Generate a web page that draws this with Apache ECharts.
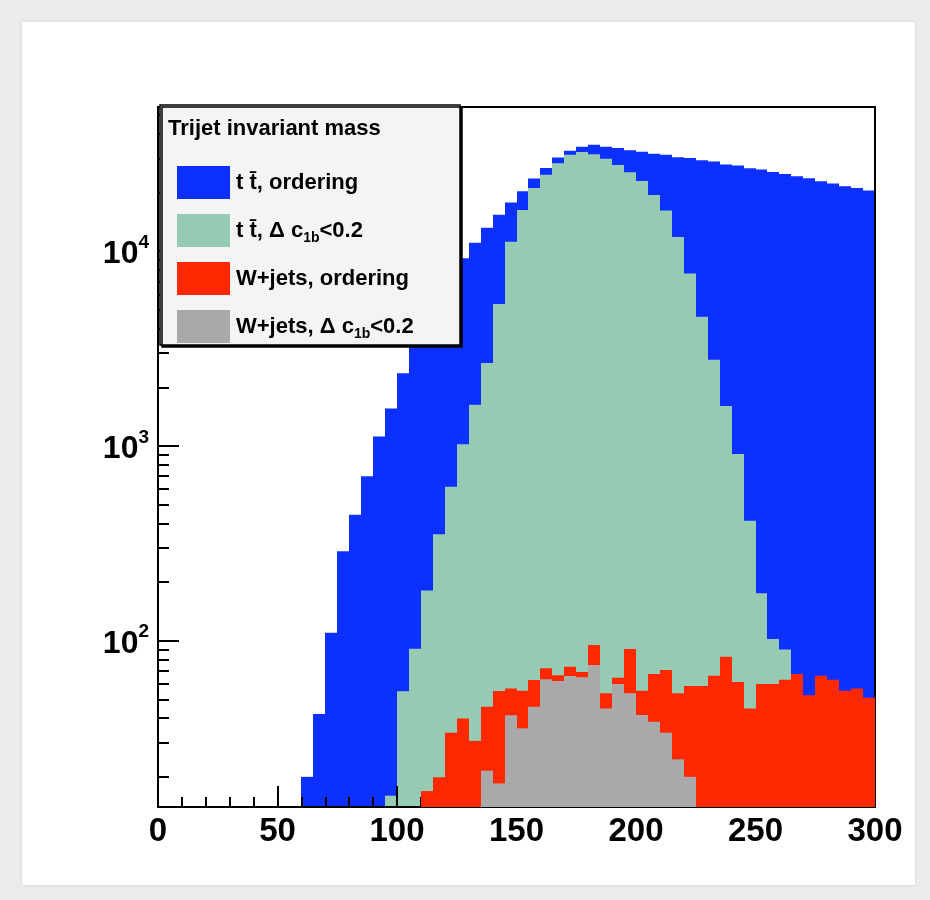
<!DOCTYPE html>
<html>
<head>
<meta charset="utf-8">
<script src="https://cdn.jsdelivr.net/npm/echarts@6/dist/echarts.min.js"></script>
<style>
html, body { margin: 0; padding: 0; background: #ebebeb; }
#card { position: absolute; left: 22px; top: 22px; width: 893px; height: 863px; background: #fff; box-shadow: 0 0 3px rgba(0,0,0,0.12); }
#chart { position: absolute; left: 0; top: 0; width: 930px; height: 900px; }
</style>
</head>
<body>
<div id="card"></div>
<div id="chart"></div>
<script>
// trijet invariant mass, 60 bins of 5 GeV from 0 to 300
var binWidth = 5;
var binLow = [];
for (var i = 0; i < 60; i++) binLow.push(i * binWidth);

var xTicks = [0, 50, 100, 150, 200, 250, 300];
var yMin = 14, yMax = 55000;
var yLabels = [100, 1000, 10000];
var yMinor = [20, 30, 40, 50, 60, 70, 80, 90,
  200, 300, 400, 500, 600, 700, 800, 900,
  2000, 3000, 4000, 5000, 6000, 7000, 8000, 9000,
  20000, 30000, 40000, 50000];

// t tbar, ordering
var ttOrdering = [
  null, null, null, null, null, null, null, null, null, null, null, null,
  20, 42, 110, 288, 443, 698, 1117, 1556, 2362, 3300,
  4500, 6000, 7600, 9200, 11040, 13200, 15400, 17780, 20340, 23600,
  26700, 30270, 32760, 34400, 35160, 34400, 33830, 33000, 32370, 31600,
  31240, 30400, 30060, 29330, 28840, 27850, 27540, 26680, 26250, 25530,
  24940, 24270, 23700, 22880, 22230, 21560, 21080, 20480
];
// t tbar, delta c1b < 0.2
var ttCut = [
  null, null, null, null, null, null, null, null, null, null,
  null, null, null, null, null, null, null, null, null,
  16, 55, 91, 181, 352, 618, 1019, 1626, 2663, 5360,
  11190, 16290, 21100, 24660, 28320, 31240, 32300, 31500, 29800, 27730,
  25460, 22960, 19450, 16180, 11830, 7680, 4610, 2768, 1603, 910,
  413, 175, 102, 90,
  null, null, null, null, null, null, null
];
// W+jets, ordering
var wjOrdering = [
  null, null, null, null, null, null, null, null, null, null, null,
  null, null, null, null, null, null, null, null, null, null, null,
  16.9, 19.9, 33.7, 39.9, 30.6, 45.8, 55.2, 56.8, 55.3, 62.8,
  72.2, 66.4, 73.5, 69, 95, 53.7, 64.6, 90.6, 55.3, 67.4,
  70.8, 53.7, 58.5, 58.5, 66, 82.8, 61.4, 44.8, 60, 60,
  63.1, 67.4, 52.4, 66, 63.1, 55.3, 56.9, 50.9
];
// W+jets, delta c1b < 0.2
var wjCut = [
  null, null, null, null, null, null, null, null, null, null,
  null, null, null, null, null, null, null, null, null, null,
  null, null, null, null, null, null, null,
  21.5, 18.5, 41.4, 35.5, 45.8, 63.4, 62.1, 65.9, 64.9, 75,
  44.8, 60, 53.7, 41.5, 38.4, 33.7, 24.6, 20,
  null, null, null, null, null, null, null, null, null, null,
  null, null, null, null, null
];

var names = ['tt ordering', 'tt cut', 'wj ordering', 'wj cut'];
var colors = ['#0c30ff', '#96cab3', '#ff2800', '#a9a9a9'];
var legendText = {
  'tt ordering': '{n|t t\u0304, ordering}',
  'tt cut': '{n|t t\u0304, \u0394 c}{sub|1b}{n|<0.2}',
  'wj ordering': '{n|W+jets, ordering}',
  'wj cut': '{n|W+jets, \u0394 c}{sub|1b}{n|<0.2}'
};

var font = '"Liberation Sans", Arial, Helvetica, sans-serif';

// one filled rect per bin, edges snapped to whole pixels so bins join without seams
function binRect(params, api) {
  var lo = api.value(0);
  var top = api.coord([lo, api.value(1)]);
  var base = api.coord([lo + binWidth, yMin]);
  var x0 = Math.round(top[0]);
  var x1 = Math.round(base[0]);
  return {
    type: 'rect',
    shape: { x: x0, y: top[1], width: x1 - x0, height: base[1] - top[1] },
    style: { fill: api.visual('color') }
  };
}

function hist(idx, values, z) {
  var data = [];
  values.forEach(function (v, i) {
    if (v != null) data.push([binLow[i], v]);
  });
  return {
    name: names[idx],
    type: 'custom',
    renderItem: binRect,
    encode: { x: 0, y: 1 },
    data: data,
    itemStyle: { color: colors[idx] },
    z: z,
    clip: true,
    animation: false
  };
}

var chart = echarts.init(document.getElementById('chart'));
chart.setOption({
  animation: false,
  grid: {
    left: 158, top: 107, width: 717, height: 700,
    show: true, borderColor: '#000', borderWidth: 2,
    backgroundColor: 'transparent', z: 5
  },
  xAxis: {
    type: 'value', min: 0, max: 300, interval: 50, z: 3,
    axisLine: { lineStyle: { color: '#000', width: 2 } },
    axisTick: { inside: true, length: 21, lineStyle: { color: '#000', width: 2 } },
    minorTick: { show: true, splitNumber: 5, length: 10, lineStyle: { color: '#000', width: 2 } },
    splitLine: { show: false },
    axisLabel: {
      margin: 8, color: '#000', fontSize: 33, fontWeight: 'bold', fontFamily: font,
      customValues: xTicks
    }
  },
  yAxis: [
    {
      type: 'log', logBase: 10, min: yMin, max: yMax, position: 'left', z: 3,
      axisLine: { show: true, lineStyle: { color: '#000', width: 2 } },
      axisTick: { inside: true, length: 21, customValues: yLabels, lineStyle: { color: '#000', width: 2 } },
      splitLine: { show: false },
      axisLabel: {
        margin: 9, customValues: yLabels,
        formatter: function (v) { return '{b|10}{s|' + Math.round(Math.log10(v)) + '}'; },
        rich: {
          b: { fontSize: 32, fontWeight: 'bold', fontFamily: font, color: '#000', lineHeight: 36, verticalAlign: 'middle', padding: [6, 0, 0, 0] },
          s: { fontSize: 19, fontWeight: 'bold', fontFamily: font, color: '#000', lineHeight: 19, verticalAlign: 'top' }
        }
      }
    },
    {
      type: 'log', logBase: 10, min: yMin, max: yMax, position: 'left', offset: 0, z: 3,
      axisLine: { show: false },
      axisTick: { inside: true, length: 11, customValues: yMinor, lineStyle: { color: '#000', width: 2 } },
      axisLabel: { show: false },
      splitLine: { show: false }
    }
  ],
  legend: {
    left: 172, top: 161, orient: 'vertical', z: 12,
    itemWidth: 53, itemHeight: 33, itemGap: 15, icon: 'rect',
    itemStyle: { borderWidth: 0 },
    selectedMode: false, data: names,
    formatter: function (name) { return legendText[name]; },
    textStyle: {
      padding: [0, 0, 0, 1],
      rich: {
        n: { fontSize: 22, fontWeight: 'bold', fontFamily: font, color: '#000', lineHeight: 30, verticalAlign: 'middle' },
        sub: { fontSize: 14, fontWeight: 'bold', fontFamily: font, color: '#000', lineHeight: 14, verticalAlign: 'bottom' }
      }
    }
  },
  graphic: [
    {
      type: 'rect', z: 10,
      shape: { x: 160, y: 105, width: 300, height: 240 },
      style: { fill: '#f4f4f4', stroke: '#000', lineWidth: 1.5, shadowColor: '#000', shadowOffsetX: 2, shadowOffsetY: 2, shadowBlur: 0 }
    },
    {
      type: 'text', z: 11, x: 168, y: 129,
      style: { text: 'Trijet invariant mass', font: 'bold 22px ' + font, fill: '#000', verticalAlign: 'middle' }
    }
  ],
  series: [
    hist(0, ttOrdering, 1),
    hist(1, ttCut, 2),
    hist(2, wjOrdering, 6),
    hist(3, wjCut, 7)
  ]
});
</script>
</body>
</html>
